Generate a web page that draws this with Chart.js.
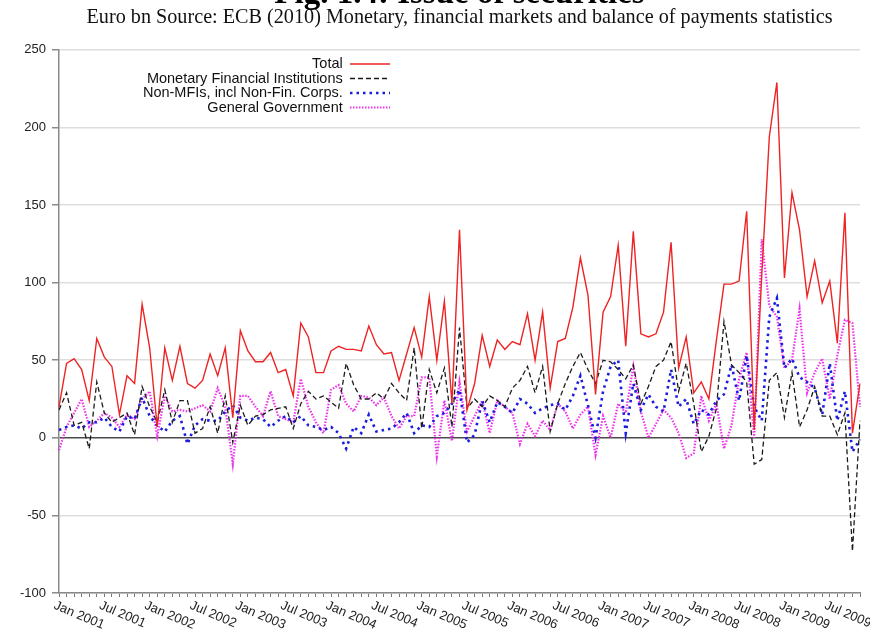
<!DOCTYPE html>
<html><head><meta charset="utf-8">
<script src="https://cdn.jsdelivr.net/npm/chart.js@4.4.1/dist/chart.umd.min.js"></script>
<style>html,body{margin:0;padding:0;background:#fff;overflow:hidden}#wrap{width:870px;height:630px;position:relative}canvas{display:block}</style>
</head><body><div id="wrap"><canvas id="c" width="870" height="630" style="width:870px;height:630px"></canvas></div>
<script>
const categories = [
 'Jan 2001','Feb 2001','Mar 2001','Apr 2001','May 2001','Jun 2001','Jul 2001','Aug 2001','Sep 2001','Oct 2001','Nov 2001','Dec 2001',
 'Jan 2002','Feb 2002','Mar 2002','Apr 2002','May 2002','Jun 2002','Jul 2002','Aug 2002','Sep 2002','Oct 2002','Nov 2002','Dec 2002',
 'Jan 2003','Feb 2003','Mar 2003','Apr 2003','May 2003','Jun 2003','Jul 2003','Aug 2003','Sep 2003','Oct 2003','Nov 2003','Dec 2003',
 'Jan 2004','Feb 2004','Mar 2004','Apr 2004','May 2004','Jun 2004','Jul 2004','Aug 2004','Sep 2004','Oct 2004','Nov 2004','Dec 2004',
 'Jan 2005','Feb 2005','Mar 2005','Apr 2005','May 2005','Jun 2005','Jul 2005','Aug 2005','Sep 2005','Oct 2005','Nov 2005','Dec 2005',
 'Jan 2006','Feb 2006','Mar 2006','Apr 2006','May 2006','Jun 2006','Jul 2006','Aug 2006','Sep 2006','Oct 2006','Nov 2006','Dec 2006',
 'Jan 2007','Feb 2007','Mar 2007','Apr 2007','May 2007','Jun 2007','Jul 2007','Aug 2007','Sep 2007','Oct 2007','Nov 2007','Dec 2007',
 'Jan 2008','Feb 2008','Mar 2008','Apr 2008','May 2008','Jun 2008','Jul 2008','Aug 2008','Sep 2008','Oct 2008','Nov 2008','Dec 2008',
 'Jan 2009','Feb 2009','Mar 2009','Apr 2009','May 2009','Jun 2009','Jul 2009','Aug 2009','Sep 2009','Oct 2009','Nov 2009'
];
const tickLabels = ['Jan 2001','Jul 2001','Jan 2002','Jul 2002','Jan 2003','Jul 2003','Jan 2004','Jul 2004','Jan 2005','Jul 2005',
 'Jan 2006','Jul 2006','Jan 2007','Jul 2007','Jan 2008','Jul 2008','Jan 2009','Jul 2009'];
const yTicks = [-100, -50, 0, 50, 100, 150, 200, 250];

const total = [20,48,51,44,24,64,52,46,15,40,35,86,
 58,7,58,37,59,35,32,37,54,40,58,13,
 69,56,49,49,55,42,44,27,74,65,42,42,
 56,59,57,57,56,72,60,54,55,37,54,71,
 52,91,50,88,22,134,18,35,66,46,63,57,
 62,60,80,50,81,32,62,64,84,116,92,28,
 81,91,124,59,133,67,65,67,81,126,45,65,
 29,36,25,63,99,99,101,146,5,105,194,229,
 103,158,134,91,114,87,101,61,145,3,35];
const mfi = [18,29,8,10,-7,36,16,10,13,16,2,33,
 20,10,31,10,24,24,3,6,20,3,27,-3,
 21,8,14,15,18,19,20,6,22,30,25,27,
 23,19,48,34,25,25,29,25,35,29,24,58,
 6,44,29,45,7,71,19,25,20,27,24,20,
 32,37,46,29,46,4,22,35,46,55,44,35,
 50,49,44,38,47,22,33,46,50,62,30,48,
 22,-9,1,19,75,47,42,36,-17,-14,37,42,
 13,42,7,18,33,14,14,2,16,-73,11];
const nonMfi = [5,7,8,6,10,10,13,7,4,14,12,26,
 14,8,4,11,14,-4,8,12,11,11,17,21,
 13,11,13,12,7,11,14,10,14,8,7,5,
 7,3,-7,7,3,15,4,5,6,10,16,3,
 8,7,14,16,22,31,-3,2,24,10,23,20,
 16,25,22,16,19,21,22,18,27,40,21,0,
 30,46,50,3,35,18,28,20,17,44,20,25,
 9,18,15,24,28,47,24,53,20,11,78,90,
 45,51,39,36,32,15,48,11,30,-9,-1];
const govt = [-8,7,16,25,7,11,16,13,7,15,12,25,
 30,1,27,17,18,17,19,21,17,32,20,-17,
 27,27,20,14,30,14,12,10,38,20,10,3,
 31,34,22,17,27,26,21,26,14,6,14,14,
 39,39,-12,24,-2,36,4,14,24,3,24,20,
 16,-4,9,1,11,5,22,17,6,15,20,-11,
 14,0,22,16,46,17,0,9,18,13,3,-13,
 -10,27,11,22,-7,8,38,55,0,128,85,78,
 45,50,83,29,42,51,25,53,76,74,20];

const seriesNames = ['Total', 'Monetary Financial Institutions', 'Non-MFIs, incl Non-Fin. Corps.', 'General Government'];
const titleText = 'Fig. 1.4: Issue of securities';
const subtitleText = 'Euro bn Source: ECB (2010) Monetary, financial markets and balance of payments statistics';

const SANS = '"Liberation Sans", Arial, Helvetica, sans-serif';
const SERIF = '"Liberation Serif", "Times New Roman", serif';

const xLabelPlugin = {
  id: 'xLabels',
  afterDraw(chart) {
    const xs = chart.scales.x, ctx = chart.ctx;
    ctx.save();
    ctx.font = '13px ' + SANS;
    ctx.fillStyle = '#222';
    ctx.textAlign = 'left';
    ctx.textBaseline = 'top';
    tickLabels.forEach(lbl => {
      const i = categories.indexOf(lbl);
      if (i < 0) return;
      const x = xs.getPixelForValue(i);
      ctx.save();
      ctx.translate(x - 2, xs.top + 6);
      ctx.rotate(23 * Math.PI / 180);
      ctx.fillText(lbl, 0, 0);
      ctx.restore();
    });
    ctx.restore();
  }
};

const legendPlacer = {
  id: 'legendPlacer',
  afterLayout(chart) {
    const lg = chart.legend;
    if (!lg) return;
    const pad = lg.options.labels.padding || 0;
    const w = lg.width;
    lg.left = 390 + pad - w;
    lg.right = lg.left + w;
    lg.top = 56.75 - pad;
    lg.bottom = lg.top + 200;
  }
};

const mk = (label, data, color, width, dash) => ({
  label, data, borderColor: color, backgroundColor: color, borderWidth: width,
  borderDash: dash, pointRadius: 0, pointHoverRadius: 0, tension: 0, fill: false, borderCapStyle: 'butt'
});

new Chart(document.getElementById('c'), {
  type: 'line',
  data: {
    labels: categories,
    datasets: [
      mk(seriesNames[0], total, '#ee2323', 1.4, []),
      mk(seriesNames[1], mfi, '#1a1a1a', 1.3, [5, 3]),
      mk(seriesNames[2], nonMfi, '#1c1cdf', 2.6, [2.5, 4]),
      mk(seriesNames[3], govt, '#ee33ee', 2.2, [1.5, 1.5])
    ]
  },
  options: {
    responsive: false,
    devicePixelRatio: 1,
    animation: false,
    events: [],
    layout: { padding: { left: 0, right: 10, top: 0, bottom: 0 } },
    plugins: {
      title: {
        display: true, text: titleText, fullSize: false, color: '#000',
        font: { family: SERIF, size: 33, weight: 'bold', lineHeight: 1.2 },
        padding: { top: -25.5, bottom: 0 }
      },
      subtitle: {
        display: true, text: subtitleText, fullSize: false, color: '#111',
        font: { family: SERIF, size: 20.2, lineHeight: 1.2 },
        padding: { top: -8.2, bottom: 19.7 }
      },
      legend: {
        position: 'chartArea', align: 'start', rtl: true,
        labels: {
          usePointStyle: true, pointStyle: 'line', pointStyleWidth: 40, boxHeight: 14.5,
          padding: 0, color: '#111', font: { family: SANS, size: 14.5 },
          generateLabels(chart) {
            const items = Chart.defaults.plugins.legend.labels.generateLabels(chart);
            items.forEach(it => {
              const ds = chart.data.datasets[it.datasetIndex];
              it.lineDash = ds.borderDash;
              it.lineWidth = ds.borderWidth;
              it.strokeStyle = ds.borderColor;
              it.lineCap = 'butt';
            });
            return items;
          }
        }
      },
      tooltip: { enabled: false }
    },
    scales: {
      x: {
        type: 'category',
        offset: false,
        afterFit(scale) { scale.height = 37; },
        ticks: { display: false, autoSkip: false },
        grid: { drawOnChartArea: false, drawTicks: true, tickLength: 4, color: '#777', lineWidth: 1 },
        border: { display: true, color: '#8a8a8a', width: 1.5 }
      },
      y: {
        min: -100, max: 250,
        afterFit(scale) { scale.width = 59; },
        afterBuildTicks(scale) { scale.ticks = yTicks.map(v => ({ value: v })); },
        ticks: { stepSize: 50, padding: 6, color: '#222', font: { family: SANS, size: 13 } },
        grid: {
          drawTicks: true, tickLength: 7,
          color: c => (c.tick && c.tick.value === 0) ? '#4a4a4a' : '#dedede',
          lineWidth: c => (c.tick && c.tick.value === 0) ? 1.6 : 1.5,
          tickColor: '#8a8a8a'
        },
        border: { display: true, color: '#8a8a8a', width: 1.5 }
      }
    }
  },
  plugins: [xLabelPlugin, legendPlacer]
});
</script>
</body></html>
